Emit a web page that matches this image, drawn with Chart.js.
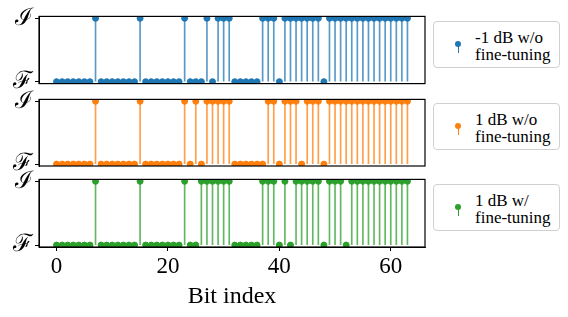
<!DOCTYPE html>
<html>
<head>
<meta charset="utf-8">
<script src="https://cdn.jsdelivr.net/npm/chart.js@4.4.1/dist/chart.umd.min.js"></script>
<style>
	body { margin: 0; background: #fff; }
	#wrap { position: relative; width: 568px; height: 317px; overflow: hidden; }
	canvas { position: absolute; left: 0; }
	.legend {
		position: absolute; left: 433px; width: 125px; height: 45px;
		border: 1px solid #d0d0d0; border-radius: 4px; background: #fff;
		font-family: "Liberation Serif", serif; font-size: 17px; line-height: 17px;
		color: #000;
	}
	.legend .txt { position: absolute; left: 41px; top: 7px; white-space: nowrap; }
	.legend .dot { position: absolute; left: 21px; top: 19px; width: 6px; height: 6px; border-radius: 50%; }
	.legend .stem { position: absolute; left: 23.5px; top: 23px; width: 1.2px; height: 8px; }
</style>
</head>
<body>
<div id="wrap">
	<canvas id="panel1" width="430" height="100" style="top:0px"></canvas>
	<canvas id="panel2" width="430" height="100" style="top:83px"></canvas>
	<canvas id="panel3" width="430" height="154" style="top:163px"></canvas>

	<div class="legend" style="top:21px">
		<div class="dot" style="background:#1f77b4"></div><div class="stem" style="background:#1f77b4"></div>
		<div class="txt">-1 dB w/o<br>fine-tuning</div>
	</div>
	<div class="legend" style="top:103px">
		<div class="dot" style="background:#ff7f0e"></div><div class="stem" style="background:#ff7f0e"></div>
		<div class="txt">1 dB w/o<br>fine-tuning</div>
	</div>
	<div class="legend" style="top:184px">
		<div class="dot" style="background:#2ca02c"></div><div class="stem" style="background:#2ca02c"></div>
		<div class="txt">1 dB w/<br>fine-tuning</div>
	</div>
</div>
<script>
// bit decisions: 0 = F, 1 = I
var bits = [];
for (var i = 0; i < 64; i++) bits.push(i);

var minus1NoFt = [
	0,0,0,0,0,0,0,1, 0,0,0,0,0,0,0,1, 0,0,0,0,0,0,0,1, 0,0,0,1,0,1,1,1,
	0,0,0,0,0,1,1,1, 0,1,1,1,1,1,1,1, 0,1,1,1,1,1,1,1, 1,1,1,1,1,1,1,1
];
var plus1NoFt = [
	0,0,0,0,0,0,0,1, 0,0,0,0,0,0,0,1, 0,0,0,0,0,0,0,1, 0,1,0,1,1,1,1,1,
	0,0,0,0,0,0,1,1, 0,1,1,1,0,1,1,1, 0,1,1,1,1,1,1,1, 1,1,1,1,1,1,1,1
];
var plus1Ft = [
	0,0,0,0,0,0,0,1, 0,0,0,0,0,0,0,1, 0,0,0,0,0,0,0,1, 0,0,1,1,1,1,1,1,
	0,0,0,0,0,1,1,1, 0,1,0,1,1,1,1,1, 0,1,1,1,0,1,1,1, 1,1,1,1,1,1,1,1
];
var yTickLabels = ["\u2131", "\u2110"];   // F, I
var xTicks = [0, 20, 40, 60];

var frame = {
	id: "frame",
	afterDraw: function(chart) {
		var a = chart.chartArea, c = chart.ctx;
		c.save();
		c.strokeStyle = "#000";
		c.lineWidth = 1.2;
		c.strokeRect(a.left, a.top, a.right - a.left, a.bottom - a.top);
		c.restore();
	}
};

function makePanel(id, values, color, stemColor, showX) {
	var pts = bits.map(function(b, i) { return { x: b, y: values[i] }; });
	var xScale = {
		type: "linear",
		min: -3.15,
		max: 66.15,
		offset: false,
		display: showX,
		grid: { display: true, drawOnChartArea: false, offset: false, color: "#000", tickLength: 4, tickWidth: 1 },
		border: { display: true, color: "#000" },
		afterBuildTicks: function(s) { s.ticks = xTicks.map(function(v) { return { value: v }; }); },
		ticks: {
			color: "#000",
			padding: 2,
			maxRotation: 0,
			autoSkip: false,
			font: { family: "Liberation Serif", size: 23 }
		},
		title: {
			display: showX,
			text: "Bit index",
			color: "#000",
			padding: { top: 0, bottom: 0 },
			font: { family: "Liberation Serif", size: 24 }
		}
	};
	if (showX) {
		xScale.afterFit = function(s) { s.height = 64; };
	}
	return new Chart(document.getElementById(id), {
		type: "bar",
		data: {
			datasets: [
				{
					type: "scatter",
					data: pts,
					backgroundColor: color,
					borderColor: color,
					pointRadius: 3,
					pointHoverRadius: 3,
					order: 0
				},
				{
					type: "bar",
					data: pts,
					backgroundColor: stemColor,
					barThickness: 1,
					order: 1
				}
			]
		},
		options: {
			responsive: false,
			animation: false,
			events: [],
			layout: { padding: { top: 16, right: 5, bottom: showX ? 6 : (id == "panel1" ? 16 : 17), left: 0 } },
			plugins: { legend: { display: false }, tooltip: { enabled: false } },
			scales: {
				x: xScale,
				y: {
					type: "linear",
					min: -0.03,
					max: 1.03,
					grid: { display: true, drawOnChartArea: false, color: "#000", tickLength: 4 },
					border: { display: true, color: "#000" },
					afterBuildTicks: function(s) { s.ticks = [{ value: 0 }, { value: 1 }]; },
					afterFit: function(s) { s.width = 39; },
					ticks: {
						color: "#000",
						padding: 2,
						font: { family: "DejaVu Serif", size: 24 },
						callback: function(v) { return yTickLabels[v]; }
					}
				}
			}
		},
		plugins: [frame]
	});
}

makePanel("panel1", minus1NoFt, "#1f77b4", "rgba(31,119,180,0.75)", false);
makePanel("panel2", plus1NoFt, "#ff7f0e", "rgba(255,127,14,0.75)", false);
makePanel("panel3", plus1Ft, "#2ca02c", "rgba(44,160,44,0.75)", true);
</script>
</body>
</html>
